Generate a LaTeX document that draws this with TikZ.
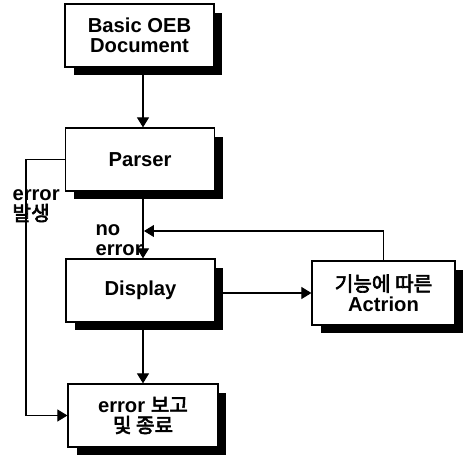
\documentclass[tikz,border=0pt]{standalone}
\usepackage{fontspec}
\setmainfont{Liberation Sans}
\newfontfamily\krfont{Noto Sans CJK KR}[AutoFakeBold=3]
\usetikzlibrary{arrows.meta,shadows}

\begin{document}
\begin{tikzpicture}[x=0.02cm, y=-0.02cm,
  every node/.style={font=\bfseries\fontsize{11.5}{11.5}\selectfont},
  box/.style={rectangle, draw=black, fill=white, line width=0.7pt, minimum width=2.98cm, minimum height=1.26cm, align=center, inner sep=2pt, drop shadow={shadow xshift=0.17cm, shadow yshift=-0.17cm, fill=black, opacity=1}},
  lbl/.style={anchor=north west, align=left, inner sep=0pt},
  >={Triangle[width=0.24cm,length=0.2cm]}, line width=0.6pt
]
\useasboundingbox (0,0) rectangle (464,460);

\node[box] (doc) at (139.5,35.5) {Basic OEB\\Document};
\node[box] (parser) at (140,159.5) {Parser};
\node[box] (disp) at (140.5,290.5) {Display};
\node[box, minimum width=2.86cm, minimum height=1.28cm] (act) at (383.5,293) {{\krfont 기능에 따른}\\Actrion};
\node[box, minimum width=3cm] (err) at (143,415.5) {error {\krfont 보고}\\{\krfont 및 종료}};

\node[lbl] (errlbl) at (12,189) {error\\{\krfont 발생}};
\node[lbl] (nolbl) at (95,224) {no\\error};

\coordinate (errbend) at (26,300);
\coordinate (back) at (144,231);

\draw[->] (doc.south -| err) -- (parser.north -| err);
\draw[->] (parser.south -| err) -- (disp.north -| err);
\draw[->] (disp.south -| err) -- (err.north);
\draw[->] (disp.east |- act.west) -- (act.west);
\draw[->] (act.north) |- (back);
\draw[->] (parser.west) -| (errbend) |- (err.west);
\end{tikzpicture}
\end{document}
